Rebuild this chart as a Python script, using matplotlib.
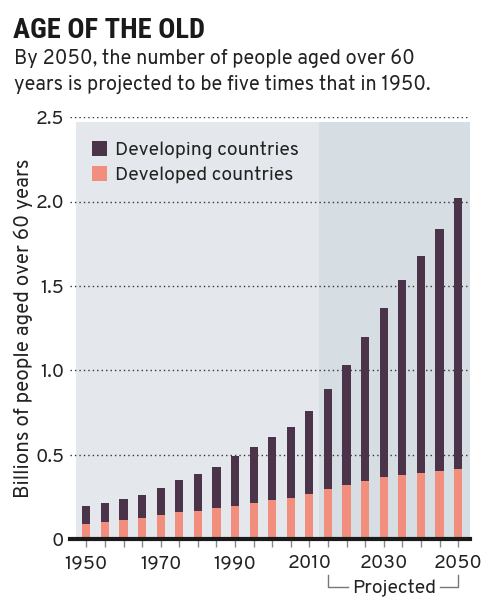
import matplotlib
matplotlib.use("Agg")
import matplotlib.pyplot as plt
from matplotlib.patches import Patch

years = [1950, 1955, 1960, 1965, 1970, 1975, 1980, 1985, 1990, 1995, 2000,
         2005, 2010, 2015, 2020, 2025, 2030, 2035, 2040, 2045, 2050]
developed = [0.089, 0.101, 0.113, 0.125, 0.141, 0.159, 0.165, 0.183, 0.198, 0.214, 0.232,
             0.241, 0.265, 0.294, 0.320, 0.345, 0.365, 0.381, 0.393, 0.405, 0.413]
total = [0.198, 0.214, 0.236, 0.264, 0.304, 0.349, 0.385, 0.429, 0.492, 0.548, 0.605,
         0.665, 0.760, 0.887, 1.029, 1.195, 1.370, 1.538, 1.677, 1.835, 2.020]
developing = [t - d for t, d in zip(total, developed)]
yticks = [0, 0.5, 1.0, 1.5, 2.0, 2.5]
ytick_labels = ["0", "0.5", "1.0", "1.5", "2.0", "2.5"]
xtick_labels = [1950, 1970, 1990, 2010, 2030, 2050]
projected_start = 2012.5

C_DARK = "#4b3349"
C_PINK = "#f28e7e"
BG_HIST = "#e4e8ec"
BG_PROJ = "#d6dde3"

body_font = ["Overpass", "Lato", "DejaVu Sans"]
plt.rcParams['font.family'] = body_font
plt.rcParams['font.weight'] = 'light'
FS = 14

fig = plt.figure(figsize=(5.0, 6.01), dpi=100)
ax = fig.add_axes([0.14, 0.103, 0.80, 0.702])
ax.set_facecolor("none")
ax.set_xlim(1945.6, 2053.2)
ax.set_ylim(0, 2.5)

ax.axvspan(1947.3, projected_start, ymin=0, ymax=2.47 / 2.5, color=BG_HIST, zorder=0, lw=0)
ax.axvspan(projected_start, 2053.2, ymin=0, ymax=2.47 / 2.5, color=BG_PROJ, zorder=0, lw=0)

for yv in yticks[1:]:
    ax.axhline(yv, color="#333333", lw=1.0, ls=(0, (1, 2.2)), zorder=1)

bw = 2.2
ax.bar(years, developed, width=bw, color=C_PINK, zorder=3, lw=0)
ax.bar(years, developing, bottom=developed, width=bw, color=C_DARK, zorder=3, lw=0)

for s in ["top", "right", "left"]:
    ax.spines[s].set_visible(False)
ax.spines["bottom"].set_linewidth(3)
ax.spines["bottom"].set_color("#1a1a1a")
ax.spines["bottom"].set_zorder(5)

ax.set_yticks(yticks)
ax.set_yticklabels(ytick_labels)
ax.tick_params(axis="y", length=0, pad=4, labelsize=FS, labelcolor="#222222")
ax.set_xticks(years, minor=True)
ax.set_xticks(xtick_labels)
ax.set_xticklabels([str(x) for x in xtick_labels])
ax.tick_params(axis="x", which="both", length=6, width=1, color="#888888",
               labelsize=FS, labelcolor="#222222", pad=5)

ax.set_ylabel("Billions of people aged over 60 years", fontsize=14.8, color="#222222", labelpad=2)

handles = [Patch(facecolor=C_DARK, lw=0), Patch(facecolor=C_PINK, lw=0)]
ax.legend(handles, ["Developing countries", "Developed countries"], loc="upper left",
          bbox_to_anchor=(0.01, 0.985), frameon=False, fontsize=FS,
          handlelength=0.8, handleheight=0.8, handletextpad=0.4, labelspacing=0.33,
          labelcolor="#222222")

trans = ax.get_xaxis_transform()
yb_top, yb_bot = -0.085, -0.113
ax.plot([2015, 2015, 2020.5], [yb_top, yb_bot, yb_bot], transform=trans, clip_on=False,
        color="#777777", lw=1)
ax.plot([2045, 2050, 2050], [yb_bot, yb_bot, yb_top], transform=trans, clip_on=False,
        color="#777777", lw=1)
ax.text(2032.7, yb_bot, "Projected", transform=trans, ha="center", va="center",
        fontsize=FS, color="#222222")

fig.text(0.026, 0.937, "AGE OF THE OLD", fontsize=20.5, fontweight="bold",
         family=["Roboto Condensed", "DejaVu Sans"],
         color="#1a1a1a", ha="left", va="baseline")
fig.text(0.028, 0.893, "By 2050, the number of people aged over 60", fontsize=14.4,
         color="#222222", ha="left", va="baseline")
fig.text(0.028, 0.851, "years is projected to be five times that in 1950.", fontsize=14.4,
         color="#222222", ha="left", va="baseline")

fig.savefig("out.png", dpi=100)
